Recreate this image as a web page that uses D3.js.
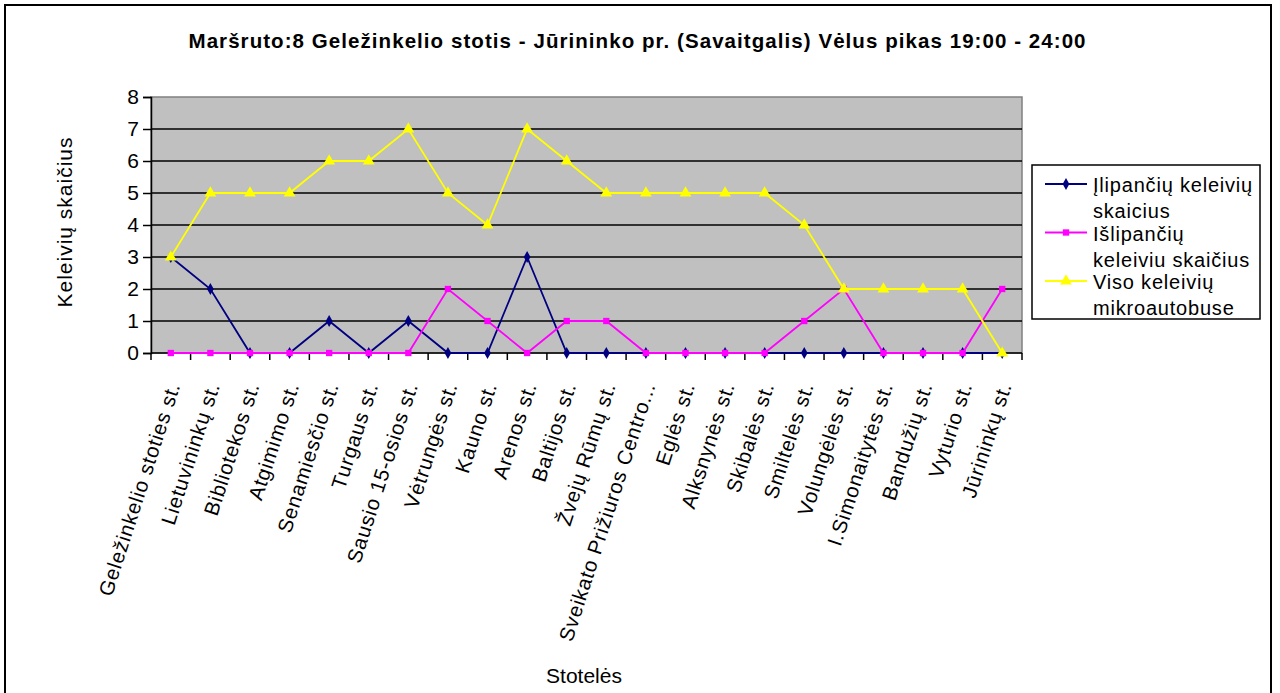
<!DOCTYPE html>
<html>
<head>
<meta charset="utf-8">
<script src="https://cdn.jsdelivr.net/npm/d3@7"></script>
<style>
  body { margin: 0; background: #fff; }
  svg { font-family: "Liberation Sans", Arial, sans-serif; }
</style>
</head>
<body>
<svg id="chart" width="1280" height="693"></svg>
<script>
// Step 1: data
const stops = [
  "Geležinkelio stoties st.", "Lietuvininkų st.", "Bibliotekos st.", "Atgimimo st.",
  "Senamiesčio st.", "Turgaus st.", "Sausio 15-osios st.", "Vėtrungės st.",
  "Kauno st.", "Arenos st.", "Baltijos st.", "Žvejų Rūmų st.",
  "Sveikato Prižiuros Centro...", "Eglės st.", "Alksnynės st.", "Skibalės st.",
  "Smiltelės st.", "Volungėlės st.", "I.Simonaitytės st.", "Bandužių st.",
  "Vyturio st.", "Jūrininkų st."
]
const boarding = [3, 2, 0, 0, 1, 0, 1, 0, 0, 3, 0, 0, 0, 0, 0, 0, 0, 0, 0, 0, 0, 0]
const alighting = [0, 0, 0, 0, 0, 0, 0, 2, 1, 0, 1, 1, 0, 0, 0, 0, 1, 2, 0, 0, 0, 2]
const onboard = [3, 5, 5, 5, 6, 6, 7, 5, 4, 7, 6, 5, 5, 5, 5, 5, 4, 2, 2, 2, 2, 0]
const yTicks = [0, 1, 2, 3, 4, 5, 6, 7, 8]

const seriesNames = [
  ["Įlipančių keleivių", "skaicius"],
  ["Išlipančių", "keleiviu skaičius"],
  ["Viso keleivių", "mikroautobuse"]
]
const series = [
  { values: boarding, color: "#000080", symbol: d3.symbolDiamond, size: 40 },
  { values: alighting, color: "#FF00FF", symbol: d3.symbolSquare, size: 40 },
  { values: onboard, color: "#FFFF00", symbol: d3.symbolTriangle, size: 60 }
]

// Step 2: layout
const margin = { top: 97, left: 151 }
const width = 1022 - margin.left
const height = 353 - margin.top

const svg = d3.select("#chart")

// outer frame
svg.append("rect")
  .attr("x", 5).attr("y", 5).attr("width", 1266).attr("height", 692)
  .attr("fill", "none").attr("stroke", "#000").attr("stroke-width", 2)

svg.append("text")
  .attr("x", 637).attr("y", 48)
  .attr("text-anchor", "middle")
  .attr("font-weight", "bold").attr("font-size", 20.5)
  .attr("textLength", 897).attr("lengthAdjust", "spacing")
  .text("Maršruto:8 Geležinkelio stotis - Jūrininko pr. (Savaitgalis) Vėlus pikas 19:00 - 24:00")

const g = svg.append("g").attr("transform", `translate(${margin.left}, ${margin.top})`)

// Step 3: scales
const x = d3.scaleBand().domain(stops).range([0, width])
const y = d3.scaleLinear().domain([0, 8]).range([height, 0])
const cx = d => x(d) + x.bandwidth() / 2

// plot area
g.append("rect")
  .attr("width", width).attr("height", height)
  .attr("fill", "#C0C0C0").attr("stroke", "#808080").attr("stroke-width", 1.5)

g.selectAll(".grid").data(yTicks.filter(t => t > 0 && t < 8)).enter()
  .append("line")
  .attr("x1", 0).attr("x2", width)
  .attr("y1", d => y(d)).attr("y2", d => y(d))
  .attr("stroke", "#000").attr("stroke-width", 1.5)

// Step 4: axes
const yAxis = d3.axisLeft(y).tickValues(yTicks).tickSize(8).tickPadding(4)
g.append("g").call(yAxis)
  .call(a => a.select(".domain").attr("stroke-width", 1.5))
  .call(a => a.selectAll(".tick line").attr("stroke-width", 1.5))
  .call(a => a.selectAll("text").attr("font-size", 21).attr("fill", "#000").attr("font-family", "Liberation Sans, Arial, sans-serif"))

const xAxisG = g.append("g").attr("transform", `translate(0, ${height})`)
xAxisG.append("line").attr("x1", 0).attr("x2", width).attr("stroke", "#000").attr("stroke-width", 1.5)
xAxisG.selectAll(".xt").data(stops.concat(["__end"])).enter()
  .append("line")
  .attr("x1", (d, i) => i * x.step()).attr("x2", (d, i) => i * x.step())
  .attr("y1", 0).attr("y2", 7)
  .attr("stroke", "#000").attr("stroke-width", 1.5)

xAxisG.selectAll(".xl").data(stops).enter()
  .append("text")
  .attr("transform", d => `translate(${cx(d) + 3}, 30) rotate(-72)`)
  .attr("text-anchor", "end")
  .attr("dy", "0.35em")
  .attr("font-size", 20.5)
  .attr("letter-spacing", 0.8)
  .text(d => d)

// Step 5: lines
const line = d3.line()
  .x((d, i) => cx(stops[i]))
  .y(d => y(d))

series.forEach(s => {
  g.append("path")
    .datum(s.values)
    .attr("d", line)
    .attr("fill", "none")
    .attr("stroke", s.color)
    .attr("stroke-width", 1.8)
  g.selectAll(null).data(s.values).enter()
    .append("path")
    .attr("d", d3.symbol().type(s.symbol).size(s.size))
    .attr("transform", (d, i) => `translate(${cx(stops[i])}, ${y(d)})`)
    .attr("fill", s.color)
})

// axis titles
svg.append("text")
  .attr("transform", "translate(72, 222) rotate(-90)")
  .attr("text-anchor", "middle")
  .attr("font-size", 21)
  .attr("letter-spacing", 1)
  .text("Keleivių skaičius")

svg.append("text")
  .attr("x", 584).attr("y", 683)
  .attr("text-anchor", "middle")
  .attr("font-size", 21)
  .text("Stotelės")

// Step 6: legend
const legend = svg.append("g").attr("transform", "translate(1032, 165)")
legend.append("rect")
  .attr("width", 228).attr("height", 154)
  .attr("fill", "#fff").attr("stroke", "#000").attr("stroke-width", 1.5)

series.forEach((s, i) => {
  const row = legend.append("g").attr("transform", `translate(0, ${19 + i * 48.5})`)
  row.append("line")
    .attr("x1", 13).attr("x2", 55)
    .attr("stroke", s.color).attr("stroke-width", 1.8)
  row.append("path")
    .attr("d", d3.symbol().type(s.symbol).size(s.size))
    .attr("transform", "translate(34, 0)")
    .attr("fill", s.color)
  row.selectAll("text").data(seriesNames[i]).enter()
    .append("text")
    .attr("x", 61).attr("y", (d, j) => 8 + j * 26)
    .attr("font-size", 20)
    .attr("letter-spacing", 0.8)
    .text(d => d)
})
</script>
</body>
</html>
